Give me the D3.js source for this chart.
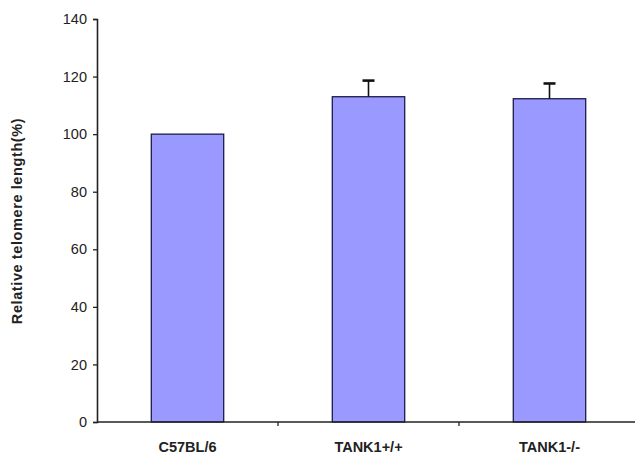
<!DOCTYPE html>
<html>
<head>
<meta charset="utf-8">
<script src="https://cdn.jsdelivr.net/npm/d3@7"></script>
<style>
	body { margin: 0; background: #fff; }
	svg { display: block; font-family: Arial, "Liberation Sans", sans-serif; }
</style>
</head>
<body>
<svg id="chart" width="635" height="457"></svg>
<script>
// data
var categories = ["C57BL/6", "TANK1+/+", "TANK1-/-"];
var values = [100, 113, 112.3];
var errors = [0, 5.6, 5.3];
var yTicks = [0, 20, 40, 60, 80, 100, 120, 140];

var plotLeft = 97,
	plotRight = 640,
	plotTop = 19,
	plotBottom = 422;

var svg = d3.select("#chart");

var x = d3.scaleBand()
	.domain(categories)
	.range([plotLeft, plotRight])
	.paddingInner(0.6)
	.paddingOuter(0.3);

var y = d3.scaleLinear()
	.domain([0, 140])
	.range([plotBottom, plotTop]);

var rows = categories.map(function(c, i) {
	return { name: c, value: values[i], err: errors[i] };
});

// bars
svg.append("g")
	.selectAll("rect")
	.data(rows)
	.enter().append("rect")
	.attr("x", function(d) { return x(d.name); })
	.attr("y", function(d) { return y(d.value); })
	.attr("width", x.bandwidth())
	.attr("height", function(d) { return y(0) - y(d.value); })
	.attr("fill", "#9999ff")
	.attr("stroke", "#1c1c48")
	.attr("stroke-width", 1.3);

// error bars (upper half only)
var eb = svg.append("g")
	.selectAll("g")
	.data(rows.filter(function(d) { return d.err > 0; }))
	.enter().append("g")
	.attr("stroke", "#111")
	.attr("stroke-width", 1.6);

eb.append("line")
	.attr("x1", function(d) { return x(d.name) + x.bandwidth() / 2; })
	.attr("x2", function(d) { return x(d.name) + x.bandwidth() / 2; })
	.attr("y1", function(d) { return y(d.value); })
	.attr("y2", function(d) { return y(d.value + d.err); });

eb.append("line")
	.attr("x1", function(d) { return x(d.name) + x.bandwidth() / 2 - 6; })
	.attr("x2", function(d) { return x(d.name) + x.bandwidth() / 2 + 6; })
	.attr("y1", function(d) { return y(d.value + d.err); })
	.attr("y2", function(d) { return y(d.value + d.err); })
	.attr("stroke-width", 2.6);

// y axis
var yAxis = svg.append("g")
	.attr("transform", "translate(" + plotLeft + ",0)")
	.call(d3.axisLeft(y).tickValues(yTicks).tickSize(4).tickPadding(6));
yAxis.select(".domain").attr("stroke", "#222").attr("stroke-width", 1.6);
yAxis.selectAll(".tick line").attr("stroke", "#222").attr("stroke-width", 1.3);
yAxis.selectAll(".tick text")
	.attr("font-size", 14.5)
	.attr("fill", "#222")
	.attr("font-family", "Arial, 'Liberation Sans', sans-serif");

// x axis: line with ticks between categories
var xAxis = svg.append("g");
xAxis.append("line")
	.attr("x1", plotLeft)
	.attr("x2", plotRight)
	.attr("y1", y(0))
	.attr("y2", y(0))
	.attr("stroke", "#222")
	.attr("stroke-width", 1.6);

xAxis.selectAll(".sep")
	.data(categories.slice(1))
	.enter().append("line")
	.attr("class", "sep")
	.attr("x1", function(d) { return x(d) - x.step() * x.paddingInner() / 2; })
	.attr("x2", function(d) { return x(d) - x.step() * x.paddingInner() / 2; })
	.attr("y1", y(0))
	.attr("y2", y(0) + 4)
	.attr("stroke", "#222")
	.attr("stroke-width", 1.3);

xAxis.selectAll(".cat")
	.data(categories)
	.enter().append("text")
	.attr("class", "cat")
	.attr("x", function(d) { return x(d) + x.bandwidth() / 2; })
	.attr("y", y(0) + 30)
	.attr("text-anchor", "middle")
	.attr("font-size", 14.5)
	.attr("font-weight", "bold")
	.attr("fill", "#222")
	.text(function(d) { return d; });

// y axis title
svg.append("text")
	.attr("transform", "translate(22,221) rotate(-90)")
	.attr("text-anchor", "middle")
	.attr("font-size", 14.5)
	.attr("letter-spacing", 0.6)
	.attr("font-weight", "bold")
	.attr("fill", "#222")
	.text("Relative telomere length(%)");
</script>
</body>
</html>
